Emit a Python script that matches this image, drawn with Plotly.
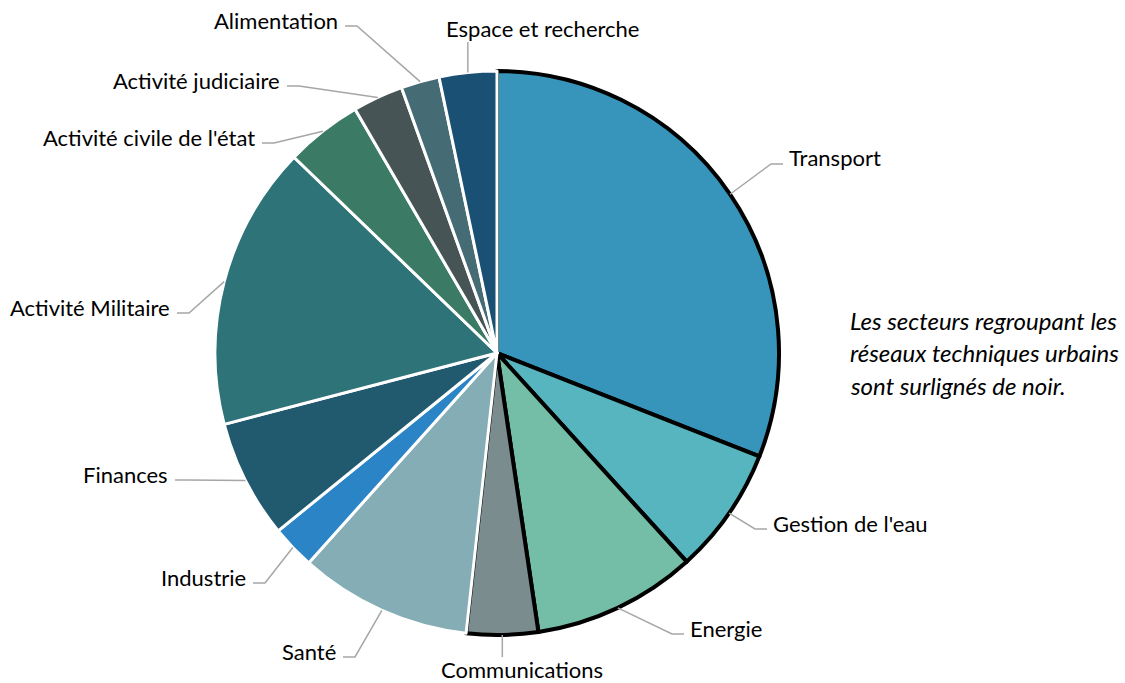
import math
import plotly.graph_objects as go

# ---- data ----
sectors = ["Transport", "Gestion de l'eau", "Energie", "Communications", "Santé",
           "Industrie", "Finances", "Activité Militaire", "Activité civile de l'état",
           "Activité judiciaire", "Alimentation", "Espace et recherche"]
shares = [31.0, 7.3, 9.4, 4.1, 9.9, 2.5, 6.8, 16.3, 4.4, 2.9, 2.2, 3.3]
urban = [True, True, True, True, False, False, False, False, False, False, False, False]
colors = ["#3795BB", "#57B5BF", "#74BEA8", "#7A8C8E", "#85ADB5", "#2A84C6",
          "#215A6E", "#2E7378", "#3B7B66", "#475456", "#456C74", "#1B5075"]

note_lines = ["Les secteurs regroupant les", "réseaux techniques urbains",
              "sont surlignés de noir."]

# ---- layout (pixels) ----
W, H = 1125, 683
CX, CY, R = 497, 353, 282
FONT = "Lato"
FS = 22
FS_NOTE = 24
# text anchor (x, y, side) for each label
label_pos = [(787, 158, "left"), (771, 523, "left"), (688, 628, "left"),
             (522, 669, "center"), (338, 651, "right"), (248, 577, "right"),
             (170, 474, "right"), (172, 307, "right"), (257, 137, "right"),
             (282, 80, "right"), (340, 20, "right"), (542, 28, "center")]


def px(x):
    return x / W


def py(y):
    return 1 - y / H


fig = go.Figure()
fig.add_trace(go.Pie(
    labels=sectors, values=shares, sort=False, direction="clockwise", rotation=0,
    marker=dict(colors=colors,
                line=dict(color=["#000000" if u else "#FFFFFF" for u in urban],
                          width=[4 if u else 3 for u in urban])),
    textinfo="none", hoverinfo="label+percent", showlegend=False,
    domain=dict(x=[px(CX - R), px(CX + R)], y=[py(CY + R), py(CY - R)]),
))

total = sum(shares)
cum = 0.0
shapes = []
annotations = []
for name, v, (tx, ty, side) in zip(sectors, shares, label_pos):
    mid = (cum + v / 2) / total * 2 * math.pi
    cum += v
    ex = CX + R * math.sin(mid)
    ey = CY - R * math.cos(mid)
    if side == "center":
        endy = ty - 12 if ty > CY else ty + 14
        pts = [(ex, ey), (ex, endy)]
        xa = "center"
    elif side == "left":
        end = (tx - 4, ty + 6)
        elbow = (tx - 16, ty + 6)
        pts = [(ex, ey), elbow, end]
        xa = "left"
    else:
        end = (tx + 5, ty + 6)
        elbow = (tx + 17, ty + 6)
        pts = [(ex, ey), elbow, end]
        xa = "right"
    path = "M " + " L ".join(f"{px(x):.5f},{py(y):.5f}" for x, y in pts)
    shapes.append(dict(type="path", path=path, xref="paper", yref="paper",
                       line=dict(color="#A6A6A6", width=1.5)))
    annotations.append(dict(x=px(tx), y=py(ty), xref="paper", yref="paper",
                            text=name, showarrow=False, xanchor=xa, yanchor="middle",
                            font=dict(family=FONT, size=FS, color="#000000")))

for i, line in enumerate(note_lines):
    annotations.append(dict(x=px(848), y=py(320 + 32.5 * i), xref="paper", yref="paper",
                            text=f"<i>{line}</i>", showarrow=False, xanchor="left",
                            yanchor="middle",
                            font=dict(family=FONT, size=FS_NOTE, color="#000000")))

fig.update_layout(width=W, height=H, margin=dict(l=0, r=0, t=0, b=0),
                  paper_bgcolor="white", plot_bgcolor="white",
                  shapes=shapes, annotations=annotations)
fig.write_html("out.html", config={"displayModeBar": False},
               post_script="document.body.style.margin='0';")
